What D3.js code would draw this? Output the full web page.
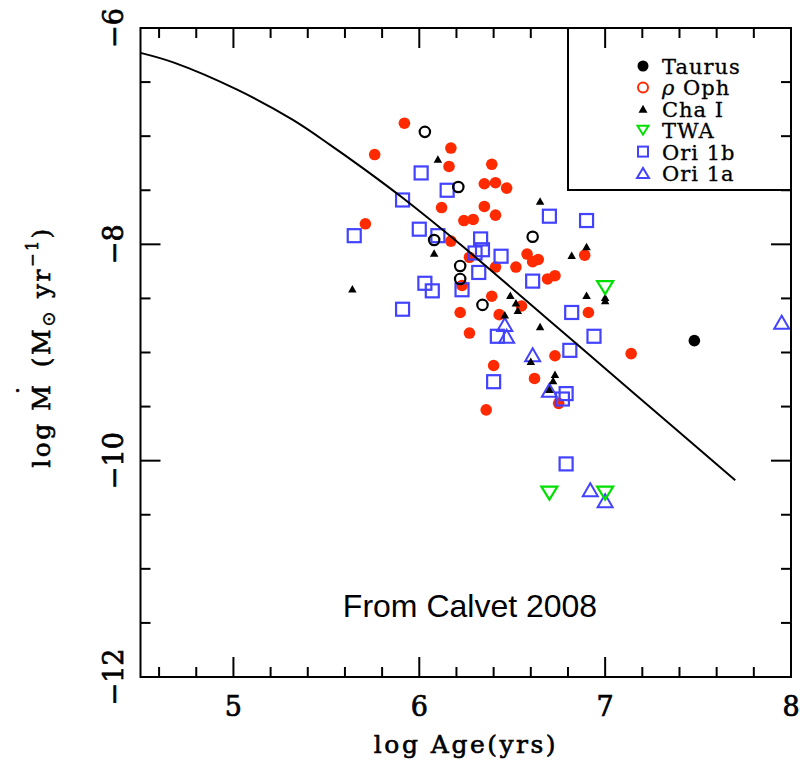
<!DOCTYPE html>
<html>
<head>
<meta charset="utf-8">
<script src="https://cdn.jsdelivr.net/npm/d3@7"></script>
<style>
body { margin: 0; background: #fff; }
svg { display: block; }
.tick-lbl { font-family: "DejaVu Serif", serif; font-size: 27px; stroke: #000; stroke-width: 0.7px; }
.ax-title { font-family: "DejaVu Serif", serif; font-size: 25px; letter-spacing: 2.5px; stroke: #000; stroke-width: 0.6px; }
.leg { font-family: "DejaVu Serif", serif; font-size: 21px; letter-spacing: 1px; stroke: #000; stroke-width: 0.3px; }
</style>
</head>
<body>
<script>
// model curve (log age, log Mdot)
var modelAge  = [4.5, 4.68, 5.02, 5.32, 5.52, 5.70, 5.91, 6.22, 6.69, 7.15, 7.70];
var modelMdot = [-6.23, -6.32, -6.57, -6.85, -7.08, -7.30, -7.57, -8.0, -8.69, -9.37, -10.18];

// point groups, [log age, log Mdot]
var rhoOph = [[5.92,-6.88],[5.76,-7.17],[6.17,-7.11],[6.16,-7.28],[6.39,-7.26],[6.35,-7.44],[6.41,-7.43],
  [6.47,-7.48],[6.12,-7.66],[6.35,-7.65],[6.24,-7.78],[6.29,-7.77],[6.41,-7.73],[5.71,-7.81],[6.17,-7.97],
  [6.27,-8.12],[6.58,-8.09],[6.61,-8.16],[6.64,-8.14],[6.41,-8.21],[6.52,-8.21],[6.69,-8.32],[6.73,-8.29],
  [6.89,-8.10],[6.23,-8.38],[6.39,-8.48],[6.55,-8.57],[6.22,-8.63],[6.43,-8.65],[6.91,-8.63],[6.27,-8.82],
  [6.73,-9.03],[7.14,-9.01],[6.40,-9.12],[6.62,-9.24],[6.75,-9.47],[6.36,-9.53]];
var taurusOpen = [[6.03,-6.96],[6.21,-7.47],[6.08,-7.96],[6.61,-7.93],[6.22,-8.20],[6.22,-8.32],[6.34,-8.56]];
var taurusFilled = [[7.48,-8.89]];
var chaI = [[6.10,-7.21],[6.08,-8.08],[5.64,-8.41],[6.65,-7.60],[6.90,-8.02],[6.82,-8.10],[6.90,-8.47],
  [7.00,-8.49],[7.00,-8.52],[6.49,-8.47],[6.52,-8.54],[6.53,-8.61],[6.46,-8.65],[6.65,-8.76],[6.60,-9.08],
  [6.73,-9.20],[6.72,-9.26],[6.70,-9.34]];
var twa = [[7.00,-8.40],[6.70,-10.30],[7.00,-10.30]];
var ori1b = [[6.01,-7.34],[6.15,-7.50],[5.91,-7.59],[6.00,-7.86],[5.65,-7.92],[6.10,-7.92],[6.33,-7.95],
  [6.34,-8.05],[6.30,-8.08],[6.44,-8.11],[6.70,-7.74],[6.90,-7.78],[6.32,-8.26],[6.61,-8.34],[6.03,-8.36],
  [6.07,-8.43],[6.23,-8.42],[5.91,-8.60],[6.82,-8.63],[6.94,-8.85],[6.81,-8.98],[6.42,-8.85],[6.40,-9.27],
  [6.79,-9.38],[6.77,-9.43],[6.79,-10.03]];
var ori1a = [[6.46,-8.74],[6.47,-8.85],[6.61,-9.02],[6.70,-9.35],[7.95,-8.72],[6.92,-10.27],[7.00,-10.37]];

var xMajor = [5, 6, 7, 8];
var yMajor = [-6, -8, -10, -12];
var legendNames = ["Taurus", "\u03c1 Oph", "Cha I", "TWA", "Ori 1b", "Ori 1a"];

var red = "#ff2a00", blue = "#4343ff", green = "#00e000";

var width = 800, height = 765;
var plotL = 140.5, plotR = 791, plotT = 28, plotB = 677;

var svg = d3.select("body").append("svg")
    .attr("width", width)
    .attr("height", height);

var x = d3.scaleLinear().domain([4.5, 8]).range([plotL, plotR]);
var y = d3.scaleLinear().domain([-12, -6]).range([plotB, plotT]);

//triangle path centred on its box
function tri(cx, cy, w, h, down){
    var s = down ? -1 : 1;
    return "M" + (cx - w/2) + "," + (cy + s*h/2) + "L" + (cx + w/2) + "," + (cy + s*h/2) +
        "L" + cx + "," + (cy - s*h/2) + "Z";
}

// data marks
svg.append("g").selectAll("circle")
    .data(rhoOph).enter().append("circle")
    .attr("cx", d => x(d[0])).attr("cy", d => y(d[1]))
    .attr("r", 5.8).attr("fill", red);

svg.append("g").selectAll("rect")
    .data(ori1b).enter().append("rect")
    .attr("x", d => x(d[0]) - 6.5).attr("y", d => y(d[1]) - 6.5)
    .attr("width", 13).attr("height", 13)
    .attr("fill", "none").attr("stroke", blue).attr("stroke-width", 2.2);

svg.append("g").selectAll("path")
    .data(ori1a).enter().append("path")
    .attr("d", d => tri(x(d[0]), y(d[1]), 15, 13, false))
    .attr("fill", "none").attr("stroke", blue).attr("stroke-width", 2);

svg.append("g").selectAll("circle")
    .data(taurusOpen).enter().append("circle")
    .attr("cx", d => x(d[0])).attr("cy", d => y(d[1]))
    .attr("r", 5.2).attr("fill", "none").attr("stroke", "#000").attr("stroke-width", 2.2);

svg.append("g").selectAll("path")
    .data(chaI).enter().append("path")
    .attr("d", d => tri(x(d[0]), y(d[1]), 8.5, 7.5, false))
    .attr("fill", "#000");

svg.append("g").selectAll("path")
    .data(twa).enter().append("path")
    .attr("d", d => tri(x(d[0]), y(d[1]), 16, 13, true))
    .attr("fill", "none").attr("stroke", green).attr("stroke-width", 2.2);

svg.append("g").selectAll("circle")
    .data(taurusFilled).enter().append("circle")
    .attr("cx", d => x(d[0])).attr("cy", d => y(d[1]))
    .attr("r", 5.8).attr("fill", "#000");

// model curve
var line = d3.line()
    .x(d => x(d[0])).y(d => y(d[1]))
    .curve(d3.curveCatmullRom.alpha(0.5));
svg.append("path")
    .datum(modelAge.map((a, i) => [a, modelMdot[i]]))
    .attr("d", line)
    .attr("fill", "none").attr("stroke", "#000").attr("stroke-width", 2);

// frame with ticks on all four sides
var xTicks = d3.range(46, 80, 2).map(v => v / 10);
var yTicks = d3.range(-115, -60, 5).map(v => v / 10);
var axes = svg.append("g").attr("stroke", "#000").attr("stroke-width", 2);
axes.append("rect")
    .attr("x", plotL).attr("y", plotT)
    .attr("width", plotR - plotL).attr("height", plotB - plotT)
    .attr("fill", "none");
xTicks.forEach(function(t){
    var len = Math.abs(t - Math.round(t)) < 1e-6 ? 20 : 10;
    axes.append("line").attr("x1", x(t)).attr("x2", x(t)).attr("y1", plotB).attr("y2", plotB - len);
    axes.append("line").attr("x1", x(t)).attr("x2", x(t)).attr("y1", plotT).attr("y2", plotT + len);
});
yTicks.forEach(function(t){
    var len = Math.abs(t / 2 - Math.round(t / 2)) < 1e-6 ? 20 : 10;
    axes.append("line").attr("y1", y(t)).attr("y2", y(t)).attr("x1", plotL).attr("x2", plotL + len);
    axes.append("line").attr("y1", y(t)).attr("y2", y(t)).attr("x1", plotR).attr("x2", plotR - len);
});

// tick labels
svg.append("g").selectAll("text")
    .data(xMajor).enter().append("text")
    .attr("class", "tick-lbl")
    .attr("x", d => x(d)).attr("y", 716)
    .attr("text-anchor", "middle")
    .text(d => d);

svg.append("g").selectAll("text")
    .data(yMajor).enter().append("text")
    .attr("class", "tick-lbl")
    .attr("transform", d => "translate(123," + y(d) + ") rotate(-90)")
    .attr("text-anchor", "middle")
    .text(d => "\u2212" + Math.abs(d));

// axis titles
svg.append("text")
    .attr("class", "ax-title")
    .attr("x", 466).attr("y", 753)
    .attr("text-anchor", "middle")
    .text("log Age(yrs)");

var yt = svg.append("text")
    .attr("class", "ax-title")
    .attr("transform", "translate(50,347) rotate(-90)")
    .attr("text-anchor", "middle");
yt.append("tspan").text("log M");
yt.append("tspan").attr("dx", -14).attr("dy", -15).text("\u02d9");
yt.append("tspan").attr("dx", 4).attr("dy", 15).text(" (M");
yt.append("tspan").attr("dy", 5).attr("font-size", "19px").style("stroke-width", "0.3px").text("\u2299");
yt.append("tspan").attr("dy", -5).text(" yr");
yt.append("tspan").attr("dy", -12).attr("font-size", "16px").text("\u22121");
yt.append("tspan").attr("dy", 12).text(")");

// legend
var leg = svg.append("g");
leg.append("rect")
    .attr("x", 568).attr("y", plotT)
    .attr("width", plotR - 568).attr("height", 190 - plotT)
    .attr("fill", "none").attr("stroke", "#000").attr("stroke-width", 2);

var legY = d3.scalePoint().domain(legendNames).range([66, 173]);
var lx = 643;
leg.append("circle").attr("cx", lx).attr("cy", legY("Taurus")).attr("r", 5.5).attr("fill", "#000");
leg.append("circle").attr("cx", lx).attr("cy", legY("\u03c1 Oph")).attr("r", 5).attr("fill", "none")
    .attr("stroke", red).attr("stroke-width", 2);
leg.append("path").attr("d", tri(lx, legY("Cha I"), 9, 8, false)).attr("fill", "#000");
leg.append("path").attr("d", tri(lx, legY("TWA"), 11, 9, true)).attr("fill", "none")
    .attr("stroke", green).attr("stroke-width", 2);
leg.append("rect").attr("x", lx - 5).attr("y", legY("Ori 1b") - 5).attr("width", 10).attr("height", 10)
    .attr("fill", "none").attr("stroke", blue).attr("stroke-width", 2);
leg.append("path").attr("d", tri(lx, legY("Ori 1a"), 12, 10, false)).attr("fill", "none")
    .attr("stroke", blue).attr("stroke-width", 2);

leg.selectAll("text.leg")
    .data(legendNames).enter().append("text")
    .attr("class", "leg")
    .attr("x", 662).attr("y", d => legY(d) + 8)
    .each(function(d){
        var t = d3.select(this);
        if (d.charAt(0) === "\u03c1") {
            t.append("tspan").attr("font-style", "italic").text("\u03c1");
            t.append("tspan").text(d.slice(1));
        } else {
            t.text(d);
        }
    });

// annotation
svg.append("text")
    .attr("x", 470).attr("y", 617)
    .attr("text-anchor", "middle")
    .style("font-family", "'Liberation Sans', Arial, sans-serif")
    .style("font-size", "32px")
    .text("From Calvet 2008");
</script>
</body>
</html>
